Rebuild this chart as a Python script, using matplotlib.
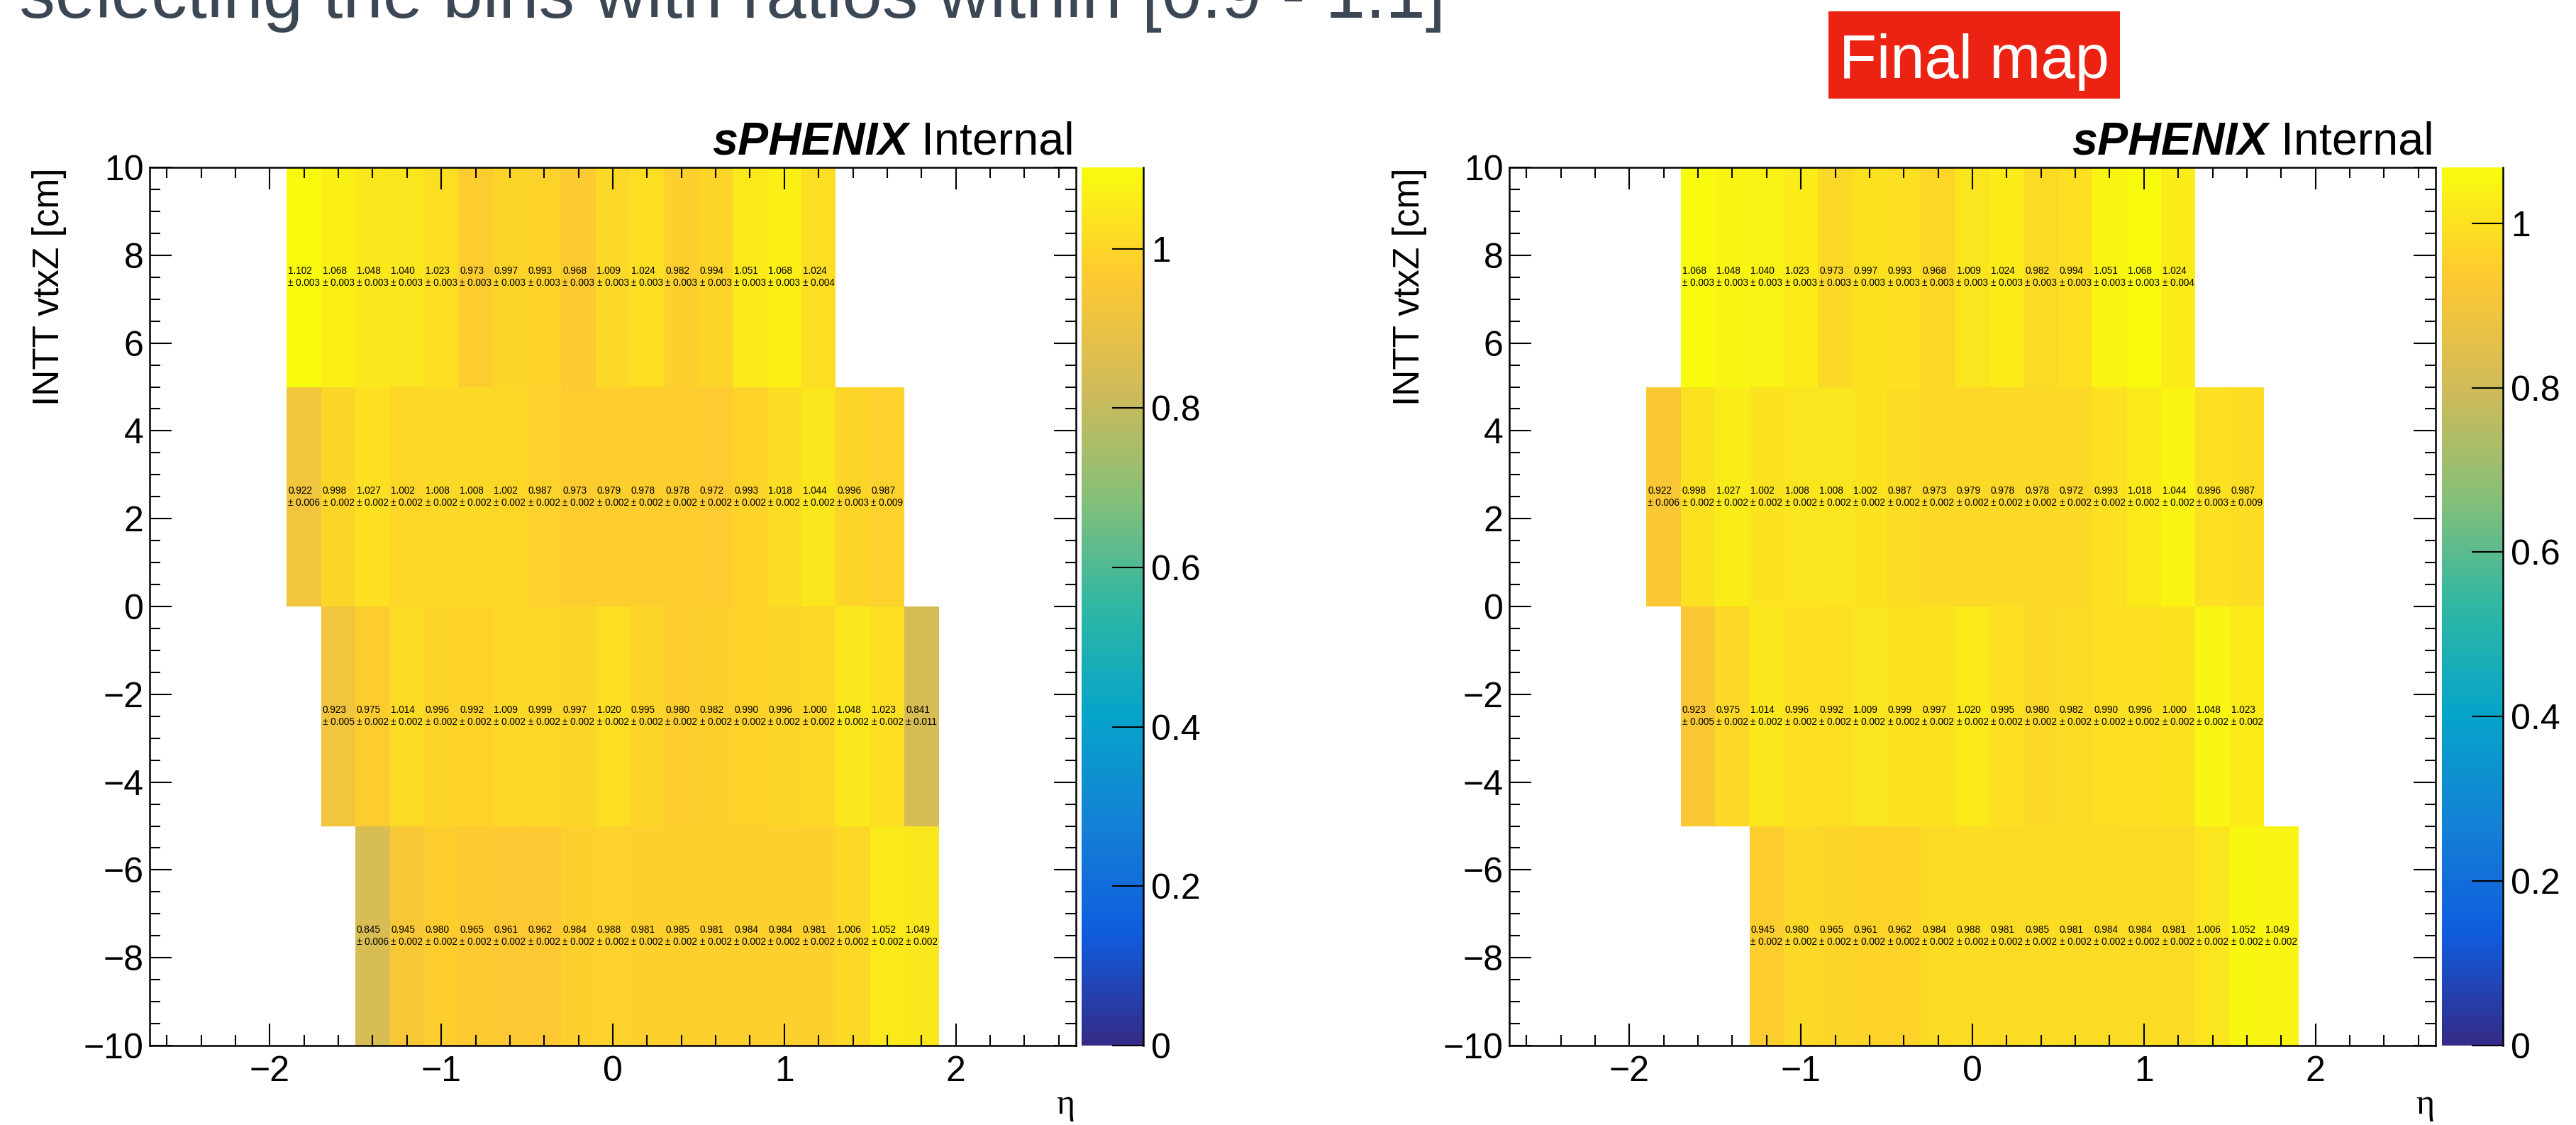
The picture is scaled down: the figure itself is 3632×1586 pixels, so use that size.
import numpy as np
import matplotlib.pyplot as plt
from matplotlib.colors import LinearSegmentedColormap
from matplotlib.patches import Rectangle
from matplotlib.ticker import MultipleLocator, FuncFormatter

plt.rcParams['font.family'] = ['Liberation Sans', 'DejaVu Sans']

W, H = 3632, 1586

# eta binning (0.2 wide) and the four vtxZ slices
eta_edges = np.linspace(-1.9, 1.9, 20)
vtxz_edges = [-10, -5, 0, 5, 10]

# low edge of the first filled eta bin in each vtxZ slice (bottom to top)
eta_start = [-1.5, -1.7, -1.9, -1.9]

# vtxZ in [-10, -5]
ratio_z_m10_m5 = [0.845, 0.945, 0.980, 0.965, 0.961, 0.962, 0.984, 0.988, 0.981,
                  0.985, 0.981, 0.984, 0.984, 0.981, 1.006, 1.052, 1.049]
err_z_m10_m5 = [0.006, 0.002, 0.002, 0.002, 0.002, 0.002, 0.002, 0.002, 0.002,
                0.002, 0.002, 0.002, 0.002, 0.002, 0.002, 0.002, 0.002]

# vtxZ in [-5, 0]
ratio_z_m5_0 = [0.923, 0.975, 1.014, 0.996, 0.992, 1.009, 0.999, 0.997, 1.020,
                0.995, 0.980, 0.982, 0.990, 0.996, 1.000, 1.048, 1.023, 0.841]
err_z_m5_0 = [0.005, 0.002, 0.002, 0.002, 0.002, 0.002, 0.002, 0.002, 0.002,
              0.002, 0.002, 0.002, 0.002, 0.002, 0.002, 0.002, 0.002, 0.011]

# vtxZ in [0, 5]
ratio_z_0_5 = [0.922, 0.998, 1.027, 1.002, 1.008, 1.008, 1.002, 0.987, 0.973,
               0.979, 0.978, 0.978, 0.972, 0.993, 1.018, 1.044, 0.996, 0.987]
err_z_0_5 = [0.006, 0.002, 0.002, 0.002, 0.002, 0.002, 0.002, 0.002, 0.002,
             0.002, 0.002, 0.002, 0.002, 0.002, 0.002, 0.002, 0.003, 0.009]

# vtxZ in [5, 10]
ratio_z_5_10 = [1.102, 1.068, 1.048, 1.040, 1.023, 0.973, 0.997, 0.993, 0.968,
                1.009, 1.024, 0.982, 0.994, 1.051, 1.068, 1.024]
err_z_5_10 = [0.003, 0.003, 0.003, 0.003, 0.003, 0.003, 0.003, 0.003, 0.003,
              0.003, 0.003, 0.003, 0.003, 0.003, 0.003, 0.004]

ratio_lo, ratio_hi = 0.9, 1.1

# ROOT kBird palette
bird_stops = [0.0, 0.125, 0.25, 0.375, 0.5, 0.625, 0.75, 0.875, 1.0]
bird_r = [0.2082, 0.0592, 0.0780, 0.0232, 0.1802, 0.5301, 0.8186, 0.9956, 0.9764]
bird_g = [0.1664, 0.3599, 0.5041, 0.6419, 0.7178, 0.7492, 0.7328, 0.7862, 0.9832]
bird_b = [0.5293, 0.8684, 0.8385, 0.7914, 0.6425, 0.4662, 0.3499, 0.1968, 0.0539]
bird = LinearSegmentedColormap.from_list(
    'bird', list(zip(bird_stops, zip(bird_r, bird_g, bird_b))), N=255)


def build_grid():
    rows = [(ratio_z_m10_m5, err_z_m10_m5), (ratio_z_m5_0, err_z_m5_0),
            (ratio_z_0_5, err_z_0_5), (ratio_z_5_10, err_z_5_10)]
    val = np.full((4, len(eta_edges) - 1), np.nan)
    err = np.full_like(val, np.nan)
    for i, ((v, e), start) in enumerate(zip(rows, eta_start)):
        j0 = int(round((start - eta_edges[0]) / 0.2))
        val[i, j0:j0 + len(v)] = v
        err[i, j0:j0 + len(e)] = e
    return val, err


def fig_rect(x0, y0, x1, y1):
    return [x0 / W, 1 - y1 / H, (x1 - x0) / W, (y1 - y0) / H]


def draw_map(fig, ax_px, cax_px, val, err):
    ax = fig.add_axes(fig_rect(*ax_px))
    cax = fig.add_axes(fig_rect(*cax_px))
    data = np.ma.masked_invalid(val)
    mesh = ax.pcolormesh(eta_edges, vtxz_edges, data, cmap=bird,
                         vmin=0, vmax=np.nanmax(val), edgecolors='none')

    xc = 0.5 * (eta_edges[:-1] + eta_edges[1:])
    yc = 0.5 * (np.array(vtxz_edges[:-1]) + np.array(vtxz_edges[1:]))
    for i in range(val.shape[0]):
        for j in range(val.shape[1]):
            if np.isnan(val[i, j]):
                continue
            ax.text(xc[j], yc[i], f'{val[i, j]:.3f}\n\u00b1 {err[i, j]:.3f}',
                    ha='center', va='center', multialignment='left',
                    fontsize=9.8, linespacing=1.25, color='black')

    ax.set_xlim(-2.7, 2.7)
    ax.set_ylim(-10, 10)
    ax.xaxis.set_major_locator(MultipleLocator(1))
    ax.xaxis.set_minor_locator(MultipleLocator(0.2))
    ax.yaxis.set_major_locator(MultipleLocator(2))
    ax.yaxis.set_minor_locator(MultipleLocator(0.5))
    ax.tick_params(which='both', direction='in', top=True, right=True,
                   labelsize=36, width=1.5)
    ax.tick_params(which='major', length=22)
    ax.tick_params(which='minor', length=11)
    ax.tick_params(axis='x', pad=10)
    ax.tick_params(axis='y', pad=6)
    for s in ax.spines.values():
        s.set_linewidth(1.8)

    cb = fig.colorbar(mesh, cax=cax)
    cb.set_ticks([0, 0.2, 0.4, 0.6, 0.8, 1.0])
    cb.ax.yaxis.set_major_formatter(FuncFormatter(lambda v, p: f'{v:g}'))
    cb.ax.minorticks_off()
    cb.ax.tick_params(direction='in', length=32, width=1.5, labelsize=36, pad=8)
    cb.outline.set_visible(False)
    cb.ax.plot([1, 1], [0, 1], transform=cb.ax.transAxes, color='black',
               lw=1.8, clip_on=False)

    # axis titles, ROOT style: aligned to the far end of each axis
    x0, y0, x1, y1 = ax_px
    fig.text((x0 - 141) / W, 1 - y0 / H, 'INTT vtxZ [cm]', rotation=90,
             ha='center', va='top', fontsize=37)
    fig.text((x1 - 2) / W, 1 - 1570 / H, '\u03b7', ha='right', va='baseline',
             fontsize=36, family=['Liberation Serif', 'DejaVu Serif'])

    # sPHENIX Internal label above the frame
    t_int = fig.text((x1 - 2) / W, 1 - 218 / H, 'Internal', ha='right',
                     va='baseline', fontsize=46.5)
    bb = t_int.get_window_extent(renderer=fig.canvas.get_renderer())
    fig.text((bb.x0 - 18) / W, 1 - 218 / H, 'sPHENIX', ha='right',
             va='baseline', fontsize=46.5, fontweight='bold', fontstyle='italic')
    return ax


fig = plt.figure(figsize=(W / 100, H / 100), dpi=100)

val, err = build_grid()
draw_map(fig, (211, 236, 1517, 1474), (1525, 236, 1612, 1474), val, err)

# final map keeps only the bins with ratio inside the selection window
keep = (val >= ratio_lo) & (val <= ratio_hi)
val_sel = np.where(keep, val, np.nan)
err_sel = np.where(keep, err, np.nan)
draw_map(fig, (2128, 236, 3434, 1474), (3443, 236, 3529, 1474), val_sel, err_sel)

fig.text(2038 / W, 1 - 25 / H,
         'by selecting the bins with ratios within [0.9 - 1.1]',
         ha='right', va='baseline', fontsize=73, color='#3b4755')

fig.add_artist(Rectangle((2578 / W, 1 - 139 / H), 411 / W, 123 / H,
                         transform=fig.transFigure, color='#ec2212', lw=0))
fig.text(2783 / W, 1 - 110 / H, 'Final map', ha='center', va='baseline',
         fontsize=62.5, color='white')

fig.savefig('out.png', dpi=100)
